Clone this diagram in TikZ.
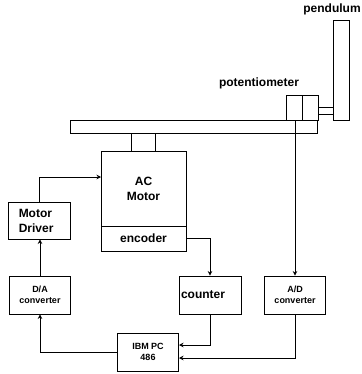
\documentclass[tikz,border=0pt]{standalone}
\usepackage{fontspec}
\setmainfont{Liberation Sans}
\usetikzlibrary{arrows.meta}

\begin{document}
\begin{tikzpicture}[
      x=1pt, y=-1pt,
      every node/.style={font=\bfseries\fontsize{12}{15}\selectfont},
      part/.style={draw, line width=0.9pt, inner sep=0pt, align=center},
      smallbox/.style={part, minimum width=61pt, minimum height=38pt, font=\bfseries\fontsize{9}{11}\selectfont},
      leftbox/.style={part, minimum height=38pt, align=flush left},
      wire/.style={line width=0.9pt},
      >={Stealth[length=4.5pt, width=4.5pt]},
    ]
    \useasboundingbox (0, 0) rectangle (361, 374);

    \node (pendlabel) at (332, 9) {pendulum};
    \node (potlabel) at (259, 83) {potentiometer};

    \node[part, minimum width=16.5pt, minimum height=100pt] (pend) at (341.25, 70) {};
    \node[part, minimum width=16pt, minimum height=25pt] (potl) at (294, 107.5) {};
    \node[part, minimum width=16pt, minimum height=25pt] (potr) at (310, 107.5) {};
    \node[part, minimum width=15pt, minimum height=7pt] (shaft) at (325.5, 110.5) {};
    \node[part, minimum width=247pt, minimum height=13pt] (arm) at (193.5, 126.5) {};
    \node[part, minimum width=23.5pt, minimum height=18pt] (coupler) at (143.25, 142) {};

    \node[part, minimum width=85pt, minimum height=75pt] (motor) at (143.5, 188.5) {AC\\Motor};
    \node[part, minimum width=85pt, minimum height=25pt] (encoder) at (143.5, 238.5) {encoder};

    \node[leftbox, text width=42pt, inner xsep=10pt, minimum height=37pt] (driver) at (39.75, 220.5) {Motor\\Driver};
    \node[smallbox] (da) at (40, 295) {D/A\\converter};
    \node[leftbox, text width=58pt, inner xsep=2pt] (counter) at (210, 295) {counter};
    \node[smallbox] (ad) at (295, 295) {A/D\\converter};
    \node[smallbox] (ibm) at (148, 352) {IBM PC\\486};

    \coordinate (motorin) at (101, 177);
    \coordinate (ibmcounter) at (179, 345);
    \coordinate (ibmad) at (179, 358);

    \draw[wire, ->] (driver.north) |- (motorin);
    \draw[wire, ->] (da.north) -- (da.north |- driver.south);
    \draw[wire, ->] (ibm.west) -| (da.south);
    \draw[wire, ->] (encoder.east) -| (counter.north);
    \draw[wire, ->] (counter.south) |- (ibmcounter);
    \draw[wire, ->] (ad.south) |- (ibmad);
    \draw[wire, ->] (potl.south -| ad.north) -- (ad.north);
  \end{tikzpicture}
\end{document}
